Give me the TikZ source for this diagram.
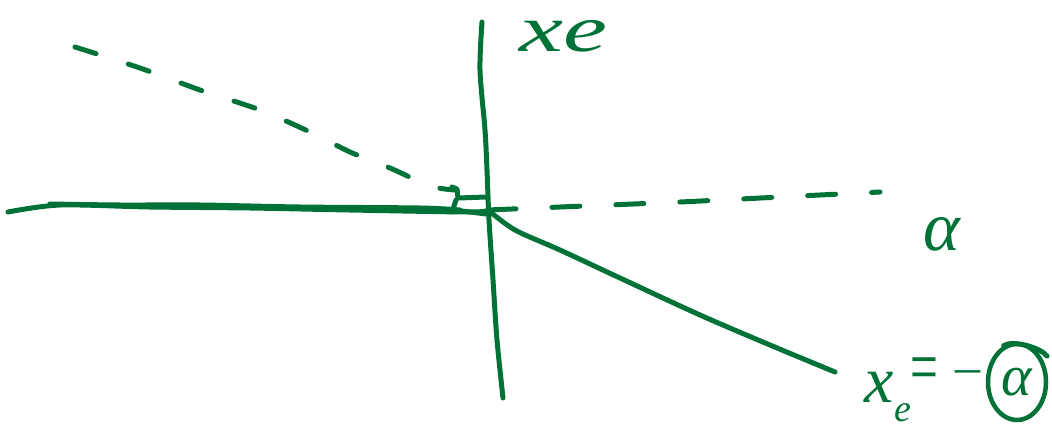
\documentclass[tikz,border=0pt]{standalone}
\usepackage{fontspec}
\setmainfont{Liberation Serif}
\usetikzlibrary{shapes.geometric}
\definecolor{pen}{RGB}{0,114,56}
\begin{document}
\begin{tikzpicture}[x=1pt,y=-1pt,
  ink/.style={draw=pen, line width=5pt, line cap=round, line join=round},
  dashink/.style={ink, dash pattern=on 22pt off 34pt},
  lbl/.style={text=pen, inner sep=0pt, font=\itshape}]
\useasboundingbox (0,0) rectangle (1052,429);
\coordinate (O) at (488,210);
\coordinate (vtop) at (482,22);
\coordinate (vbot) at (503,398);
\coordinate (hleft) at (8,212);
\coordinate (dl) at (75,47);
\coordinate (dr) at (880,192);
\coordinate (sr) at (835,372);
% vertical axis
\draw[ink] plot[smooth] coordinates {(vtop) (480,70) (485,130) (487,170) (489,220) (493,280) (497,340) (vbot)};
% horizontal solid line (double stroke)
\draw[ink] plot[smooth] coordinates {(hleft) (60,205) (150,207) (250,208) (350,210) (470,212) (O)};
\draw[ink] plot[smooth] coordinates {(50,204) (120,205) (200,205) (300,207) (420,208) (460,210)};
% small marks at the corner
\draw[ink] (452,187) -- (457,189) -- (458,198) -- (486,197);
\draw[ink] (456,200) -- (452,212);
\draw[ink] (462,211) -- (486,214);
% upper-left dashed line
\draw[dashink] plot[smooth] coordinates {(dl) (140,68) (200,90) (260,110) (310,132) (350,152) (390,168) (430,186) (455,190)};
% right dashed line
\draw[ink, dash pattern=on 28pt off 36pt] plot[smooth] coordinates {(O) (560,207) (680,202) (780,197) (dr)};
% lower-right solid line
\draw[ink] plot[smooth] coordinates {(O) (515,230) (560,250) (620,278) (700,315) (770,345) (sr)};
% labels
\node[lbl, font=\itshape\fontsize{66}{66}\selectfont] (xe) at (563,36) {\scalebox{1.5}[1]{xe}};
\node[lbl, font=\itshape\fontsize{70}{70}\selectfont] (alpha) at (942,234) {α};
\node[lbl, font=\itshape\fontsize{66}{66}\selectfont, anchor=base] (xsub) at (879,402) {x};
\node[lbl, font=\itshape\fontsize{38}{38}\selectfont, anchor=base] (esub) at (903,421) {e};
\node[lbl, font=\fontsize{76}{76}\selectfont] (eq) at (924,375) {\scalebox{0.65}[1]{=}};
\node[lbl, font=\fontsize{50}{50}\selectfont] (minus) at (968,377) {–};
\node[lbl, draw=pen, line width=4.5pt, ellipse, inner sep=0pt, minimum width=58pt, minimum height=76pt, font=\itshape\fontsize{58}{58}\selectfont] (calpha) at (1017,382) {α};
\draw[ink] (calpha.110) .. controls ++(10,-6) and ++(-6,-8) .. (1047,356);
\end{tikzpicture}
\end{document}
